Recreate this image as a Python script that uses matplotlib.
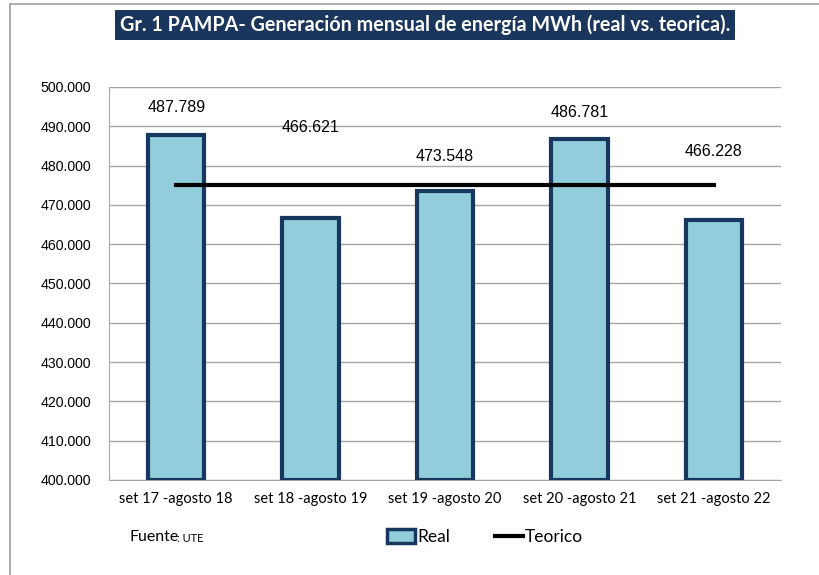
import matplotlib.pyplot as plt
from matplotlib.patches import Patch
from matplotlib.lines import Line2D

periodos = ["set 17 -agosto 18", "set 18 -agosto 19", "set 19 -agosto 20",
            "set 20 -agosto 21", "set 21 -agosto 22"]
real = [487789, 466621, 473548, 486781, 466228]
teorico = [475000, 475000, 475000, 475000, 475000]
etiquetas = ["487.789", "466.621", "473.548", "486.781", "466.228"]
y_ticks = [400000, 410000, 420000, 430000, 440000, 450000, 460000,
           470000, 480000, 490000, 500000]

# posiciones de las etiquetas (como en el original, puestas a mano)
label_y = [494900, 489800, 482200, 493400, 483700]

plt.rcParams['font.family'] = ['Lato', 'DejaVu Sans']

fig = plt.figure(figsize=(8.2, 5.75), dpi=100)
W, H = 820, 575
ax = fig.add_axes([109 / W, 1 - 480 / H, (781 - 109) / W, (480 - 87) / H])

x = list(range(len(periodos)))
ax.bar(x, [v - 400000 for v in real], bottom=400000, width=0.42,
       color="#92CDDC", edgecolor="#17375E", linewidth=3, zorder=3)
ax.plot(x, teorico, color="black", linewidth=3, zorder=4)

for xi, ly, txt in zip(x, label_y, etiquetas):
    ax.text(xi, ly, txt, ha="center", va="center", fontsize=11.5,
            color="black", family="Liberation Sans")

ax.set_xlim(-0.5, len(periodos) - 0.5)
ax.set_ylim(400000, 500000)
ax.set_yticks(y_ticks)
ax.set_yticklabels([f"{v:,}".replace(",", ".") for v in y_ticks],
                   fontsize=10.2, family="Liberation Sans")
ax.set_xticks(x)
ax.set_xticklabels(periodos, fontsize=10.5)
ax.tick_params(length=0)
ax.tick_params(axis="y", pad=13)
ax.tick_params(axis="x", pad=9)
ax.grid(axis="y", color="#A6A6A6", linewidth=1, zorder=0)
for s in ["top", "right"]:
    ax.spines[s].set_visible(False)
ax.spines["left"].set_color("#A6A6A6")
ax.spines["bottom"].set_color("#A6A6A6")

# titulo en caja
fig.text(425 / W, 1 - 25 / H,
         "Gr. 1 PAMPA- Generación mensual de energía MWh (real vs. teorica).",
         ha="center", va="center", color="white", fontsize=14.2, weight="bold",
         bbox=dict(boxstyle="square,pad=0.25", facecolor="#1B365D",
                   edgecolor="none"))

# fuente
fig.text(130 / W, 1 - 537 / H, "Fuente", fontsize=11.5, va="center")
fig.text(177 / W, 1 - 538 / H, ": UTE", fontsize=8, va="center")

handles = [Patch(facecolor="#92CDDC", edgecolor="#17375E", linewidth=2.5,
                 label="Real"),
           Line2D([0], [0], color="black", linewidth=3, label="Teorico")]
fig.legend(handles=handles, loc="center", bbox_to_anchor=(485 / W, 1 - 537 / H),
           ncol=2, frameon=False, fontsize=12.5, handlelength=1.6,
           handleheight=0.9, handletextpad=0.1, columnspacing=2.6)

# bordes del marco
fig.add_artist(Line2D([10 / W, 10 / W], [0, 1 - 4 / H], color="#A0A0A0",
                      linewidth=1.2, transform=fig.transFigure))
fig.add_artist(Line2D([10 / W, 1], [1 - 4 / H, 1 - 4 / H], color="#A0A0A0",
                      linewidth=1.2, transform=fig.transFigure))

fig.savefig("out.png", dpi=100)
